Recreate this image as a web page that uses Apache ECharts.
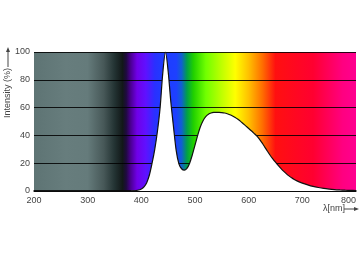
<!DOCTYPE html>
<html>
<head>
<meta charset="utf-8">
<script src="https://cdn.jsdelivr.net/npm/echarts@6/dist/echarts.min.js"></script>
<style>html,body{margin:0;padding:0;background:#fff}#c{width:360px;height:262px}</style>
</head>
<body>
<div id="c"></div>
<script>
// Wavelength (nm) and relative intensity (%)
var wavelengths = [200, 300, 380, 385, 390, 395, 400, 405, 410, 415, 420, 425, 430, 435, 440, 445, 450, 455, 460, 465, 470, 475, 480, 485, 490, 495, 500, 505, 510, 515, 520, 525, 530, 535, 540, 545, 550, 555, 560, 565, 570, 575, 580, 585, 590, 595, 600, 605, 610, 615, 620, 625, 630, 635, 640, 645, 650, 655, 660, 665, 670, 675, 680, 685, 690, 700, 710, 720, 730, 740, 750, 760, 770, 780, 790, 800];
var intensity   = [0,   0,   0,   0.1, 0.3, 0.7, 1.4, 3,   6,   11.5, 20, 30,  43,  60,  85,  100, 86,  64,  46,  29,  19.5, 16, 15,  16.3, 20, 26,  33,  40,  46.2, 50.6, 53.5, 55.2, 56.1, 56.5, 56.6, 56.6, 56.4, 56.1, 55.6, 54.9, 54.0, 52.9, 51.6, 50.1, 48.4, 46.7, 45.0, 43.3, 41.5, 39.6, 37.3, 34.6, 31.6, 28.6, 25.7, 23.1, 20.7, 18.4, 16.3, 14.3, 12.5, 10.9, 9.5, 8.3, 7.3, 5.7, 4.4, 3.3, 2.5, 1.85, 1.4, 1.05, 0.8, 0.6, 0.45, 0.35];
var xTicks = [200, 300, 400, 500, 600, 700, 800];
var yTicks = [0, 20, 40, 60, 80, 100];

// spectrum background colour stops (nm, colour)
var specNm  = [200, 260, 300, 330, 350, 365, 372, 380, 392, 408, 425, 440, 465, 475, 485, 497, 520, 550, 575, 600, 625, 650, 720, 775, 800];
var specCol = ['#5e7474', '#677d7d', '#657b7b', '#475858', '#233333', '#121818', '#200a40', '#4a0090', '#7000e8', '#6010ff', '#2a30ff', '#1e3cff', '#1e40ff', '#1060d0', '#00a048', '#20d000', '#70ff00', '#c0ff00', '#ffff00', '#ffc000', '#ff7000', '#ff1010', '#ff0030', '#ff0080', '#ff0090'];

var xMin = 200, xMax = 800;
var stops = specNm.map(function (n, i) { return { offset: (n - xMin) / (xMax - xMin), color: specCol[i] }; });
var data = wavelengths.map(function (w, i) { return [w, intensity[i]]; });

var chart = echarts.init(document.getElementById('c'), null, { renderer: 'canvas' });
var font = 'Liberation Sans';
chart.setOption({
  animation: false,
  grid: {
    left: 34, right: 4, top: 52, bottom: 71,
    show: true, borderWidth: 0,
    backgroundColor: new echarts.graphic.LinearGradient(0, 0, 1, 0, stops)
  },
  xAxis: {
    type: 'value', min: xMin, max: xMax, interval: 100,
    axisLine: { show: true, lineStyle: { color: '#000', width: 1.5 } },
    axisTick: { show: false },
    splitLine: { show: false },
    axisLabel: {
      color: '#444', fontSize: 9, fontFamily: font, margin: 5, alignMaxLabel: 'right',
      formatter: function (v) { return xTicks.indexOf(v) >= 0 ? String(v) : ''; }
    }
  },
  yAxis: {
    type: 'value', min: 0, max: 100, interval: 20,
    axisLine: { show: false },
    axisTick: { show: false },
    splitLine: { show: true, lineStyle: { color: '#000', width: 1, opacity: 0.85 } },
    axisLabel: {
      color: '#444', fontSize: 9, fontFamily: font, margin: 4,
      formatter: function (v) { return yTicks.indexOf(v) >= 0 ? String(v) : ''; }
    }
  },
  series: [{
    type: 'line',
    data: data,
    smooth: 0.3,
    showSymbol: false,
    lineStyle: { color: '#111', width: 1.2 },
    areaStyle: { color: '#ffffff', opacity: 1 },
    z: 3
  }],
  graphic: [
    { type: 'text', x: 8, y: 93, rotation: Math.PI / 2,
      style: { text: 'Intensity (%)', fill: '#444', font: '9px "Liberation Sans"', textAlign: 'center', textVerticalAlign: 'middle' } },
    { type: 'line', shape: { x1: 8, y1: 67, x2: 8, y2: 51 }, style: { stroke: '#444', lineWidth: 1 } },
    { type: 'polygon', shape: { points: [[8, 47], [6, 52], [10, 52]] }, style: { fill: '#444' } },
    { type: 'text', x: 334, y: 209,
      style: { text: 'λ[nm]', fill: '#444', font: '9px "Liberation Sans"', textAlign: 'center', textVerticalAlign: 'middle' } },
    { type: 'line', shape: { x1: 344, y1: 209, x2: 355, y2: 209 }, style: { stroke: '#444', lineWidth: 1 } },
    { type: 'polygon', shape: { points: [[359, 209], [354, 207], [354, 211]] }, style: { fill: '#444' } }
  ]
});
</script>
</body>
</html>
